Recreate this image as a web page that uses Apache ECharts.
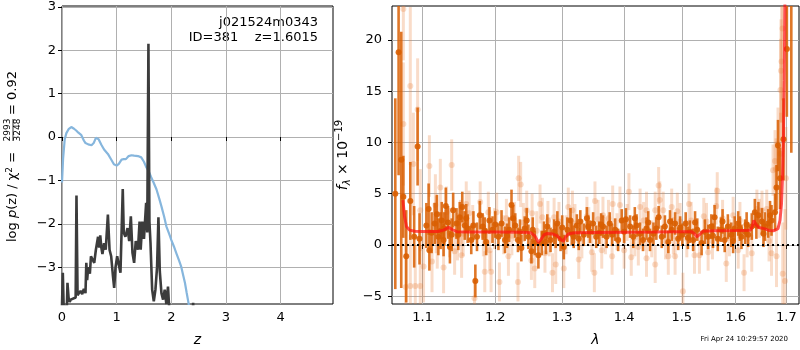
<!DOCTYPE html>
<html>
<head>
<meta charset="utf-8">
<script src="https://cdn.jsdelivr.net/npm/echarts@6/dist/echarts.min.js"></script>
<style>
  html, body { margin: 0; padding: 0; background: #fff; }
  #chart { width: 800px; height: 350px; }
</style>
</head>
<body>
<div id="chart"></div>
<script>
// left panel: redshift
const chiZ = [0, 0.02, 0.05, 0.08, 0.12, 0.17, 0.22, 0.26, 0.30, 0.35, 0.40, 0.43, 0.48, 0.54, 0.58, 0.62, 0.64, 0.67, 0.72, 0.77, 0.84, 0.90, 0.95, 1.00, 1.04, 1.09, 1.13, 1.17, 1.22, 1.27, 1.32, 1.39, 1.45, 1.50, 1.54, 1.59, 1.63, 1.68, 1.73, 1.78, 1.82, 1.87, 1.91, 1.96, 2.00, 2.05, 2.09, 2.14, 2.18, 2.22, 2.25, 2.28, 2.31, 2.34];
const chiVal = [-1.05, -0.5, -0.05, 0.09, 0.18, 0.23, 0.19, 0.15, 0.10, 0.05, -0.08, -0.14, -0.17, -0.19, -0.14, -0.02, 0.01, -0.05, -0.18, -0.29, -0.39, -0.52, -0.63, -0.66, -0.62, -0.52, -0.51, -0.51, -0.44, -0.42, -0.43, -0.44, -0.47, -0.57, -0.69, -0.80, -0.92, -1.06, -1.21, -1.42, -1.60, -1.84, -2.06, -2.23, -2.37, -2.53, -2.67, -2.84, -2.98, -3.2, -3.36, -3.58, -3.79, -4.0];

const pzZ = [0.00, 0.015, 0.03, 0.09, 0.10, 0.12, 0.14, 0.16, 0.25, 0.265, 0.285, 0.31, 0.34, 0.37, 0.40, 0.43, 0.445, 0.46, 0.48, 0.51, 0.53, 0.56, 0.59, 0.62, 0.66, 0.68, 0.70, 0.72, 0.74, 0.77, 0.80, 0.84, 0.87, 0.90, 0.93, 0.955, 0.98, 1.01, 1.04, 1.07, 1.09, 1.112, 1.13, 1.16, 1.20, 1.23, 1.26, 1.29, 1.32, 1.35, 1.39, 1.42, 1.44, 1.47, 1.50, 1.54, 1.56, 1.582, 1.60, 1.62, 1.65, 1.68, 1.71, 1.74, 1.765, 1.79, 1.82, 1.85, 1.88, 1.91, 1.94, 1.96, 2.0, 2.38, 2.40, 2.42];
const pzVal = [-3.9, -3.13, -3.9, -3.9, -3.36, -3.7, -3.8, -3.75, -3.7, -1.35, -3.65, -3.6, -3.55, -3.62, -3.5, -3.6, -2.9, -3.3, -3.0, -3.15, -2.75, -2.72, -2.9, -2.6, -2.3, -2.55, -2.27, -2.55, -2.7, -2.45, -2.6, -1.79, -2.6, -2.75, -3.17, -3.48, -3.0, -2.75, -2.95, -3.13, -3.1, -1.2, -2.2, -2.3, -2.1, -2.4, -1.83, -2.67, -2.9, -2.4, -2.6, -1.95, -2.6, -1.95, -2.35, -1.52, -2.2, 2.15, -1.95, -2.45, -3.52, -3.79, -3.52, -3.0, -1.85, -3.1, -3.6, -3.75, -3.52, -3.85, -3.45, -3.9, -4.5, -4.5, -3.82, -4.5];

const zTicks = [0, 1, 2, 3, 4];
const logpTicks = [-3, -2, -1, 0, 1, 2, 3];

// right panel: spectrum (wavelength in microns)
const darkLam = [1.0647, 1.0689, 1.0723, 1.075, 1.0787, 1.084, 1.089, 1.0935, 1.096, 1.105, 1.108, 1.109, 1.116, 1.121, 1.1255, 1.128, 1.129, 1.131, 1.1366, 1.141, 1.1456, 1.150, 1.1535, 1.157, 1.161, 1.166, 1.1717, 1.174, 1.178, 1.182, 1.187, 1.1916, 1.196,
  1.2045, 1.209, 1.214, 1.220, 1.2235, 1.226, 1.229, 1.233, 1.238, 1.243, 1.2485, 1.253, 1.258, 1.2635, 1.2685, 1.272, 1.277, 1.282, 1.2875, 1.2925, 1.2975, 1.3025, 1.308, 1.313, 1.318, 1.323, 1.3285, 1.334, 1.339, 1.344, 1.349, 1.354, 1.359,
  1.365, 1.371, 1.376, 1.385, 1.390, 1.396, 1.403, 1.410, 1.4154, 1.421, 1.427, 1.432, 1.438, 1.444, 1.450, 1.459, 1.4645, 1.470, 1.476, 1.482, 1.488, 1.4935, 1.501, 1.507, 1.5145, 1.5205, 1.528, 1.536,
  1.548, 1.554, 1.560, 1.566, 1.572, 1.579, 1.585, 1.5915, 1.598, 1.6047, 1.611, 1.618, 1.624, 1.631, 1.637, 1.644, 1.651, 1.657, 1.6635, 1.670, 1.677, 1.680, 1.683, 1.687, 1.694, 1.7009, 1.71,
  1.112, 1.119, 1.124, 1.134, 1.139, 1.148, 1.159, 1.169, 1.185, 1.200, 1.217, 1.236, 1.246, 1.255, 1.275, 1.290, 1.300, 1.315, 1.326, 1.341, 1.362, 1.380, 1.400, 1.418, 1.441, 1.455, 1.479, 1.497, 1.511, 1.524, 1.542, 1.557, 1.575, 1.595, 1.608, 1.621, 1.640, 1.654, 1.667];
const darkFlux = [5.0, 18.8, 8.3, 4.7, -1.1, 4.3, 0.8, 9.6, 0.6, 1.9, 3.5, -0.5, 2.1, 0.8, 2.4, 0.5, 1.6, 3.8, -0.2, 3.4, 2.1, 2.7, 3.7, 1.9, 1.6, 0.5, -3.5, 0.8, 2.9, 1.8, 0.3, 2.4, 1.5,
  0.8, 2.1, 0.5, 1.5, 3.9, 2.6, 1.9, 0.5, -0.3, 1.6, 0.8, -0.6, 0.2, -1.0, 0.2, 1.1, 1.8, 0.5, 1.3, 2.1, 0.6, -0.2, 1.5, 2.4, 0.8, 1.9, 2.3, 1.0, 2.6, 1.3, 2.1, 0.8, 1.2,
  1.8, 0.8, 2.1, 1.5, 0.5, 2.4, 2.5, 1.8, 0.8, 1.9, 1.1, 0.5, 1.6, 0.5, 1.1, 2.7, 0.8, 1.8, 0.3, 1.5, 2.1, 0.6, 1.0, 2.1, 1.3, 0.5, 1.5, 0.2,
  0.8, 1.8, 2.7, 0.6, 1.5, 0.5, 1.8, 1.0, 1.6, 2.1, 0.8, 1.3, 1.0, 1.8, 3.2, 2.9, 2.3, 1.8, 2.1, 2.4, 3.2, 5.6, 9.7, 6.5, 10.3, 19.1, 28,
  1.2, 3.0, 1.4, 2.2, 1.0, 1.0, 2.6, 1.9, 1.4, 2.0, 0.9, 1.3, 2.4, 1.5, 0.3, 0.9, 1.7, 1.1, 0.6, 1.8, 2.0, 1.0, 1.3, 2.6, 2.2, 1.6, 2.3, 1.7, 0.7, 2.2, 1.3, 0.9, 2.3, 0.4, 1.6, 2.0, 1.9, 1.1, 2.9];
const darkErr = [9.3, 12, 12.5, 4.0, 4.5, 3.8, 3.0, 3.8, 2.5, 2.2, 2.5, 2.0, 2.0, 1.8, 1.8, 1.6, 1.6, 1.8, 1.6, 1.7, 1.5, 1.5, 1.5, 1.4, 1.4, 1.4, 1.6, 1.4, 1.4, 1.3, 1.3, 1.3, 1.3,
  1.3, 1.3, 1.3, 1.2, 1.5, 1.3, 1.2, 1.2, 1.3, 1.2, 1.2, 1.2, 1.2, 1.3, 1.2, 1.2, 1.2, 1.2, 1.2, 1.2, 1.2, 1.2, 1.2, 1.2, 1.1, 1.1, 1.1, 1.1, 1.1, 1.1, 1.1, 1.1, 1.1,
  1.1, 1.1, 1.1, 1.1, 1.1, 1.1, 1.1, 1.1, 1.1, 1.1, 1.1, 1.1, 1.1, 1.1, 1.1, 1.1, 1.1, 1.1, 1.1, 1.1, 1.1, 1.1, 1.1, 1.1, 1.1, 1.1, 1.1, 1.2,
  1.2, 1.2, 1.2, 1.2, 1.2, 1.2, 1.2, 1.2, 1.2, 1.2, 1.2, 1.2, 1.2, 1.3, 1.3, 1.3, 1.3, 1.4, 1.4, 1.5, 1.8, 2.2, 2.5, 3.0, 4.0, 6.6, 19,
  2.0, 1.9, 1.8, 1.6, 1.6, 1.5, 1.4, 1.4, 1.3, 1.3, 1.2, 1.2, 1.2, 1.2, 1.2, 1.2, 1.2, 1.1, 1.1, 1.1, 1.1, 1.1, 1.1, 1.1, 1.1, 1.1, 1.1, 1.1, 1.1, 1.1, 1.2, 1.2, 1.2, 1.2, 1.2, 1.2, 1.3, 1.3, 1.4];

const lightLam = [1.075, 1.075, 1.078, 1.084, 1.084, 1.088, 1.0905, 1.0935, 1.097, 1.097, 1.1013, 1.109, 1.1125, 1.117, 1.118, 1.1195, 1.1236, 1.128, 1.132, 1.136, 1.139, 1.143, 1.147, 1.151, 1.1526, 1.1548, 1.159, 1.163, 1.168, 1.1705, 1.1785, 1.183, 1.185, 1.190, 1.192, 1.194, 1.199,
  1.202, 1.206, 1.212, 1.216, 1.219, 1.224, 1.228, 1.233, 1.234, 1.237, 1.241, 1.246, 1.253, 1.254, 1.258, 1.261, 1.266, 1.2695, 1.2735, 1.278, 1.280, 1.285, 1.2875, 1.290, 1.295, 1.3025, 1.306, 1.3095, 1.316, 1.320, 1.326, 1.331, 1.339, 1.342, 1.347, 1.351, 1.352, 1.357,
  1.363, 1.365, 1.369, 1.374, 1.380, 1.381, 1.388, 1.393, 1.400, 1.405, 1.408, 1.412, 1.418, 1.424, 1.427, 1.433, 1.438, 1.438, 1.447, 1.453, 1.453, 1.459, 1.461, 1.467, 1.471, 1.476, 1.482, 1.485, 1.488, 1.492, 1.497, 1.502, 1.509, 1.513, 1.517, 1.523, 1.532,
  1.540, 1.545, 1.548, 1.556, 1.563, 1.565, 1.575, 1.582, 1.588, 1.595, 1.6047, 1.608, 1.616, 1.622, 1.631, 1.641, 1.646, 1.651, 1.6605, 1.665, 1.670, 1.673, 1.677, 1.679, 1.680, 1.683, 1.688, 1.688, 1.689, 1.690, 1.692, 1.6925, 1.697, 1.699];
const lightFlux = [23.0, 11.8, -4.1, 15.5, -4.0, 7.9, -4.0, 13.2, 3.4, -4.0, -2.1, 7.7, -1.6, 3.9, 2.0, 0.5, 5.6, -2.2, 3.2, 1.2, 7.8, -0.6, 0.8, 2.2, -1.0, 1.1, 4.0, 3.1, 1.9, -5.2, 4.2, 0.9, -2.6, 3.2, -0.5, -2.6, 1.6,
  3.2, -3.6, 1.0, 2.6, -1.1, 0.9, 2.3, -3.6, 6.5, 5.9, 2.2, 3.4, -1.5, 3.1, -2.3, 1.4, 4.0, 2.7, -0.8, 2.4, 0.8, -2.7, 2.7, -1.9, 2.3, -2.3, 1.0, 3.7, 3.4, 2.1, -1.4, 0.6, 2.8, 1.8, -0.7, -2.7, 4.3, 2.5,
  -0.5, 2.9, 0.9, 2.6, -1.1, 4.0, 1.3, 3.9, -0.5, 2.2, 5.2, -1.2, 0.7, -0.2, 3.7, 2.4, 3.4, -1.3, 0.6, 3.4, -1.9, 5.8, 4.4, 3.4, 0.4, -1.1, 3.7, 0.9, -1.1, 3.3, 2.3, -4.5, 0.6, 4.0, 2.4, -1.0, -1.0,
  2.8, 2.3, -0.7, 0.4, 3.8, 5.3, 2.6, -1.8, 0.7, 2.9, -0.5, 2.4, -2.7, 0.6, -0.8, 3.5, 2.6, 3.4, 3.5, 0.4, -0.8, 7.3, 8.2, 7.4, -1.1, 9.9, 8.9, 15.1, 17.0, 17.9, 21.1, -2.8, -3.5, 6.5];
const lightErr = [5, 6, 6, 7.7, 5, 5, 4, 5, 4, 4, 3.5, 3, 3, 3, 2.8, 2.8, 2.8, 2.5, 2.5, 2.4, 2.5, 2.3, 2.3, 2.2, 2.2, 2.2, 2.2, 2.2, 2.0, 2.0, 2.0, 2.0, 2.0, 2.0, 2.0, 2.0, 2.0,
  1.9, 1.9, 1.9, 1.9, 1.9, 1.9, 1.9, 1.9, 2.2, 2.2, 1.9, 1.9, 1.9, 1.9, 1.9, 1.9, 1.9, 1.9, 1.9, 1.9, 1.9, 1.9, 1.9, 1.9, 1.9, 1.9, 1.9, 1.9, 1.9, 1.9, 1.9, 1.9, 1.9, 1.9, 1.9, 1.9, 1.9, 1.9,
  1.8, 1.8, 1.8, 1.8, 1.8, 1.8, 1.8, 1.8, 1.8, 1.8, 1.8, 1.8, 1.8, 1.8, 1.8, 1.8, 1.8, 1.8, 1.8, 1.8, 1.8, 1.8, 1.8, 1.8, 1.8, 1.8, 1.8, 1.8, 1.8, 1.8, 1.8, 1.8, 1.8, 2.0, 1.8, 1.8, 1.8,
  1.8, 1.8, 1.8, 1.8, 1.8, 1.8, 1.8, 1.8, 1.8, 1.8, 1.8, 1.8, 1.8, 1.8, 1.8, 1.9, 1.9, 1.9, 1.9, 2.0, 2.2, 2.5, 3.0, 3.0, 3.0, 3.5, 4, 5, 5, 6, 7, 5, 7, 5];

const modelLam = [1.0745, 1.0765, 1.079, 1.083, 1.09, 1.10, 1.12, 1.128, 1.1347, 1.140, 1.146, 1.16, 1.20, 1.24, 1.252, 1.258, 1.2636, 1.268, 1.272, 1.277, 1.285, 1.292, 1.298, 1.3018, 1.305, 1.310, 1.32, 1.35, 1.40, 1.45, 1.50, 1.518, 1.523, 1.527, 1.532, 1.538, 1.56, 1.60, 1.628, 1.632, 1.635, 1.639, 1.645, 1.655, 1.665, 1.675, 1.683, 1.687, 1.690, 1.692, 1.694, 1.6955, 1.697];
const modelFlux = [4.38, 2.8, 1.8, 1.45, 1.35, 1.32, 1.32, 1.45, 1.72, 1.5, 1.3, 1.27, 1.26, 1.25, 1.2, 0.9, 0.23, 0.6, 1.0, 1.12, 1.08, 0.9, 0.55, 0.35, 0.75, 1.1, 1.2, 1.22, 1.24, 1.26, 1.3, 1.3, 1.1, 0.8, 1.0, 1.35, 1.4, 1.42, 1.45, 1.8, 2.4, 2.0, 1.7, 1.6, 1.42, 1.4, 1.6, 2.4, 4.0, 6.5, 10.5, 16, 24];

const lamTicks = [1.1, 1.2, 1.3, 1.4, 1.5, 1.6, 1.7];
const fluxTicks = [-5, 0, 5, 10, 15, 20];

const FONT = 'DejaVu Sans';
const minus = v => String(v).replace('-', '\u2212');

function zip2(a, b) { return a.map((v, i) => [v, b[i]]); }
function errData(lam, f, e) { return lam.map((l, i) => [Math.log(l), f[i], e[i]]); }

function errRender(barColor, dotColor, r, lw) {
  return function (params, api) {
    const x = api.value(0), y = api.value(1), e = api.value(2);
    const top = api.coord([x, y + e]);
    const bot = api.coord([x, y - e]);
    const c = api.coord([x, y]);
    return {
      type: 'group',
      children: [
        { type: 'line', shape: { x1: top[0], y1: top[1], x2: bot[0], y2: bot[1] }, style: { stroke: barColor, lineWidth: lw } },
        { type: 'circle', shape: { cx: c[0], cy: c[1], r: r }, style: { fill: dotColor } }
      ]
    };
  };
}

function axisBase(ticks, fmt, margin) {
  return {
    axisLine: { show: false },
    axisTick: { show: true, length: 4, customValues: ticks, lineStyle: { color: '#000' } },
    axisLabel: { customValues: ticks, formatter: fmt, color: '#000', fontSize: 13, fontFamily: FONT, margin: margin },
    splitLine: { show: true, lineStyle: { color: '#b0b0b0', width: 1 } }
  };
}

const chart = echarts.init(document.getElementById('chart'), null, { renderer: 'canvas' });

const option = {
  animation: false,
  textStyle: { fontFamily: FONT },
  grid: [
    { left: 62, top: 6, width: 271, height: 298, show: true, borderColor: '#000', borderWidth: 1, outerBoundsMode: 'none', containLabel: false },
    { left: 392, top: 6, width: 407, height: 298, show: true, borderColor: '#000', borderWidth: 1, outerBoundsMode: 'none', containLabel: false }
  ],
  xAxis: [
    Object.assign({ type: 'value', gridIndex: 0, min: 0, max: 4.96,
      name: 'z', nameLocation: 'middle', nameGap: 29,
      nameTextStyle: { fontStyle: 'italic', fontSize: 14, color: '#000', fontFamily: FONT } },
      axisBase(zTicks, minus, 7)),
    Object.assign({ type: 'value', gridIndex: 1, min: Math.log(1.0605), max: Math.log(1.7258),
      name: 'λ', nameLocation: 'middle', nameGap: 29,
      nameTextStyle: { fontStyle: 'italic', fontSize: 14, color: '#000', fontFamily: FONT } },
      axisBase(lamTicks.map(Math.log), v => Math.exp(v).toFixed(1), 7))
  ],
  yAxis: [
    Object.assign({ type: 'value', gridIndex: 0, min: -3.85, max: 3.02 },
      axisBase(logpTicks, minus, 6)),
    Object.assign({ type: 'value', gridIndex: 1, min: -5.75, max: 23.3,
      name: '{i|f}{sub|λ} × 10{sup|−19}', nameLocation: 'middle', nameGap: 40, nameRotate: 90,
      nameTextStyle: { fontSize: 14, color: '#000', fontFamily: FONT,
        rich: {
          i: { fontStyle: 'italic', fontSize: 14, fontFamily: FONT, color: '#000' },
          sub: { fontSize: 10, fontStyle: 'italic', fontFamily: FONT, color: '#000', verticalAlign: 'bottom', lineHeight: 18 },
          sup: { fontSize: 10, fontFamily: FONT, color: '#000', verticalAlign: 'top', lineHeight: 18 }
        } } },
      axisBase(fluxTicks, minus, 10))
  ],
  series: [
    { type: 'line', xAxisIndex: 0, yAxisIndex: 0, data: zip2(chiZ, chiVal), showSymbol: false,
      lineStyle: { color: '#86b6dd', width: 2.2 }, clip: true },
    { type: 'line', xAxisIndex: 0, yAxisIndex: 0, data: zip2(pzZ, pzVal), showSymbol: false,
      lineStyle: { color: '#3c3c3c', width: 2.6 }, clip: true },
    { type: 'custom', xAxisIndex: 1, yAxisIndex: 1, clip: true,
      renderItem: errRender('rgba(232,130,60,0.28)', 'rgba(232,130,60,0.28)', 3, 3),
      encode: { x: 0, y: 1 }, data: errData(lightLam, lightFlux, lightErr) },
    { type: 'custom', xAxisIndex: 1, yAxisIndex: 1, clip: true,
      renderItem: errRender('rgba(217,95,2,0.85)', 'rgba(217,95,2,0.9)', 3, 2.6),
      encode: { x: 0, y: 1 }, data: errData(darkLam, darkFlux, darkErr) },
    { type: 'line', xAxisIndex: 1, yAxisIndex: 1, data: modelLam.map((l, i) => [Math.log(l), modelFlux[i]]),
      showSymbol: false, clip: true, lineStyle: { color: 'rgba(255,20,20,0.72)', width: 3 },
      markLine: { silent: true, symbol: 'none', label: { show: false },
        lineStyle: { color: '#000', type: [2, 3], width: 2 }, data: [{ yAxis: 0 }] } }
  ],
  graphic: [
    { type: 'group', x: 13, y: 242, rotation: Math.PI / 2, children: [
      { type: 'text', x: 0, y: 0, style: { text: 'log {i|p}(z) / χ{s|2} =', fontSize: 13, fontFamily: FONT, fill: '#000',
        align: 'left', verticalAlign: 'middle',
        rich: { i: { fontStyle: 'italic', fontSize: 13, fontFamily: FONT }, s: { fontSize: 9, fontFamily: FONT, verticalAlign: 'top', lineHeight: 15 } } } },
      { type: 'text', x: 112, y: -5, style: { text: '2993', fontSize: 9, fontFamily: FONT, fill: '#000', align: 'center', verticalAlign: 'middle' } },
      { type: 'line', shape: { x1: 101, y1: 0, x2: 123, y2: 0 }, style: { stroke: '#000', lineWidth: 0.8 } },
      { type: 'text', x: 112, y: 5, style: { text: '3248', fontSize: 9, fontFamily: FONT, fill: '#000', align: 'center', verticalAlign: 'middle' } },
      { type: 'text', x: 127, y: 0, style: { text: '= 0.92', fontSize: 13, fontFamily: FONT, fill: '#000', align: 'left', verticalAlign: 'middle' } }
    ] },
    { type: 'text', x: 318, y: 23, style: { text: 'j021524m0343', fontSize: 13, fontFamily: FONT, fill: '#000', align: 'right', verticalAlign: 'middle' } },
    { type: 'text', x: 318, y: 38, style: { text: 'ID=381    z=1.6015', fontSize: 13, fontFamily: FONT, fill: '#000', align: 'right', verticalAlign: 'middle' } },
    { type: 'text', x: 788, y: 339, style: { text: 'Fri Apr 24 10:29:57 2020', fontSize: 7, fontFamily: FONT, fill: '#000', align: 'right', verticalAlign: 'middle' } }
  ]
};

chart.setOption(option);
</script>
</body>
</html>
